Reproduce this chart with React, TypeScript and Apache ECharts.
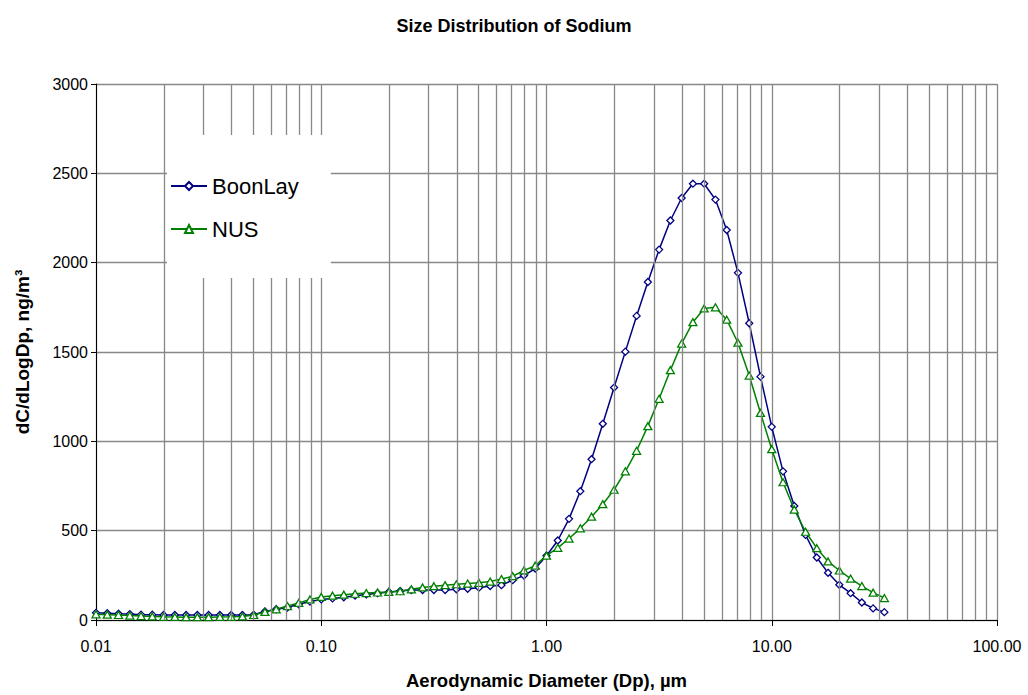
import React, { useEffect, useRef } from "react";
import * as echarts from "echarts";

const DIAMETERS = [
  0.01, 0.01122, 0.01259, 0.01413, 0.01585, 0.01778, 0.01995, 0.02239, 0.02512, 0.02818,
  0.03162, 0.03548, 0.03981, 0.04467, 0.05012, 0.05623, 0.0631, 0.07079, 0.07943, 0.08913,
  0.1, 0.1122, 0.1259, 0.1413, 0.1585, 0.1778, 0.1995, 0.2239, 0.2512, 0.2818,
  0.3162, 0.3548, 0.3981, 0.4467, 0.5012, 0.5623, 0.631, 0.7079, 0.7943, 0.8913,
  1, 1.122, 1.259, 1.413, 1.585, 1.778, 1.995, 2.239, 2.512, 2.818,
  3.162, 3.548, 3.981, 4.467, 5.012, 5.623, 6.31, 7.079, 7.943, 8.913,
  10, 11.22, 12.59, 14.13, 15.85, 17.78, 19.95, 22.39, 25.12, 28.18,
  31.62,
];

const BOONLAY = [
  40, 38, 35, 33, 30, 30, 28, 28, 28, 28,
  28, 28, 28, 28, 30, 48, 60, 70, 88, 103,
  115, 121, 127, 136, 143, 150, 157, 162, 168, 168,
  168, 168, 172, 175, 181, 190, 195, 223, 249, 288,
  360, 445, 566, 721, 900, 1098, 1301, 1502, 1702, 1892,
  2073, 2236, 2362, 2442, 2442, 2353, 2183, 1943, 1661, 1362,
  1081, 832, 638, 476, 350, 264, 197, 150, 98, 65,
  44,
];

const NUS = [
  32, 30, 28, 25, 22, 20, 18, 17, 16, 16,
  16, 17, 18, 20, 28, 45, 60, 78, 96, 115,
  129, 136, 142, 147, 151, 154, 157, 161, 172, 182,
  189, 195, 200, 204, 208, 215, 229, 245, 278, 304,
  360, 404, 456, 513, 578, 648, 729, 832, 947, 1085,
  1238, 1398, 1547, 1667, 1744, 1750, 1681, 1552, 1368, 1159,
  956, 771, 618, 494, 402, 328, 277, 232, 190, 153,
  123,
];

const MINOR_GRID = [
  0.02, 0.03, 0.04, 0.05, 0.06, 0.07, 0.08, 0.09,
  0.2, 0.3, 0.4, 0.5, 0.6, 0.7, 0.8, 0.9,
  2, 3, 4, 5, 6, 7, 8, 9,
  20, 30, 40, 50, 60, 70, 80, 90,
];

const FONT = 'Arial, "Liberation Sans", sans-serif';
const GRID_COLOR = "#888888";

export default function App() {
  const ref = useRef<HTMLDivElement>(null);

  useEffect(() => {
    if (!ref.current) return;
    const chart = echarts.init(ref.current, null, { renderer: "svg" });
    chart.setOption({
      animation: false,
      backgroundColor: "#ffffff",
      title: {
        text: "Size Distribution of Sodium",
        left: "center",
        top: 12,
        textStyle: { fontFamily: FONT, fontSize: 18, fontWeight: "bold", color: "#000" },
      },
      legend: {
        data: ["BoonLay", "NUS"],
        orient: "vertical",
        left: 167,
        top: 135,
        z: 10,
        padding: [40, 32, 38, 3],
        itemGap: 21,
        itemWidth: 36,
        itemHeight: 10,
        backgroundColor: "#ffffff",
        textStyle: { fontFamily: FONT, fontSize: 22, color: "#000" },
      },
      grid: { left: 96, right: 31, top: 84, bottom: 71 },
      xAxis: {
        type: "log",
        logBase: 10,
        min: 0.01,
        max: 100,
        name: "Aerodynamic Diameter (Dp), µm",
        nameLocation: "middle",
        nameGap: 51,
        nameTextStyle: { fontFamily: FONT, fontSize: 18.5, fontWeight: "bold", color: "#000" },
        axisLine: { show: true, onZero: false, lineStyle: { color: "#000", width: 1 } },
        axisTick: { show: true, inside: false, length: 6, lineStyle: { color: "#000" } },
        axisLabel: {
          fontFamily: FONT,
          fontSize: 16,
          color: "#000",
          margin: 18,
          formatter: (v: number) => v.toFixed(2),
        },
        splitLine: { show: true, lineStyle: { color: GRID_COLOR, width: 1.3 } },
      },
      yAxis: {
        type: "value",
        min: 0,
        max: 3000,
        interval: 500,
        name: "dC/dLogDp, ng/m³",
        nameLocation: "middle",
        nameGap: 64,
        nameTextStyle: { fontFamily: FONT, fontSize: 19, fontWeight: "bold", color: "#000" },
        axisLine: { show: true, lineStyle: { color: "#000", width: 1 } },
        axisTick: { show: true, inside: false, length: 5, lineStyle: { color: "#000" } },
        axisLabel: {
          fontFamily: FONT,
          fontSize: 16,
          color: "#000",
          margin: 8,
          formatter: (v: number) => String(v),
        },
        splitLine: { show: true, lineStyle: { color: GRID_COLOR, width: 1.3 } },
      },
      series: [
        {
          name: "grid",
          type: "line",
          data: [],
          z: 1,
          silent: true,
          markLine: {
            silent: true,
            symbol: ["none", "none"],
            label: { show: false },
            lineStyle: { color: GRID_COLOR, width: 1.3, type: "solid" },
            emphasis: { disabled: true },
            data: MINOR_GRID.map((v) => ({ xAxis: v })),
          },
        },
        {
          name: "BoonLay",
          type: "line",
          z: 3,
          data: DIAMETERS.map((d, i) => [d, BOONLAY[i]]),
          symbol: "diamond",
          symbolSize: 7,
          showAllSymbol: true,
          lineStyle: { color: "#000080", width: 1.5 },
          itemStyle: { color: "#ffffff", borderColor: "#000080", borderWidth: 1.3 },
        },
        {
          name: "NUS",
          type: "line",
          z: 4,
          data: DIAMETERS.map((d, i) => [d, NUS[i]]),
          symbol: "triangle",
          symbolSize: [8, 7],
          showAllSymbol: true,
          lineStyle: { color: "#008000", width: 1.5 },
          itemStyle: { color: "#ffffff", borderColor: "#008000", borderWidth: 1.3 },
        },
      ],
    });
    return () => chart.dispose();
  }, []);

  return (
    <div
      ref={ref}
      style={{ position: "fixed", left: 0, top: 0, width: 1028, height: 695 }}
    />
  );
}
